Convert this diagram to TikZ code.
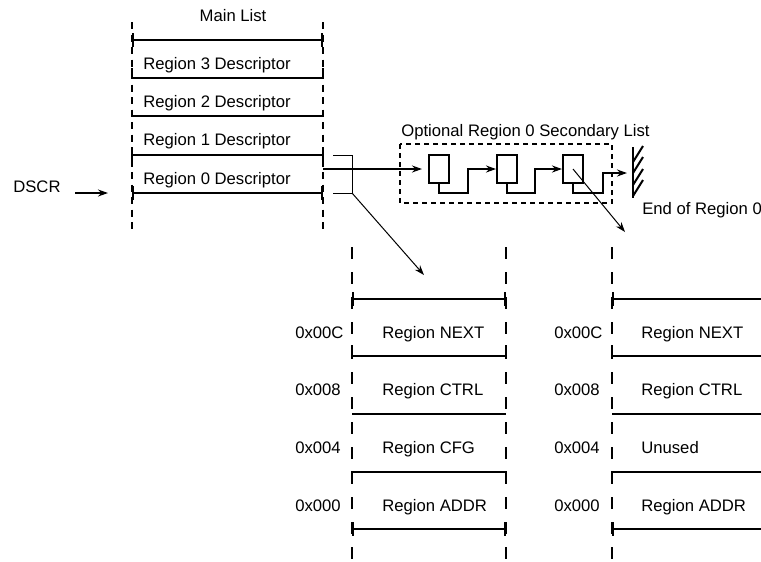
\documentclass[tikz,border=0pt]{standalone}
\usepackage{fontspec}
\setmainfont{Liberation Sans}
\usetikzlibrary{arrows.meta}

\tikzset{
  lane/.style={line width=1.2pt, dash pattern=on 7.2pt off 7.8pt},
  mainlane/.style={line width=1.2pt, dash pattern=on 4.2pt off 3.3pt},
  bar/.style={line width=1.35pt},
  endbar/.style={line width=1.35pt, {Bar[width=8pt]}-{Bar[width=8pt]}},
  cell/.style={anchor=base west, inner sep=0pt},
  link/.style={line width=0.6pt, ->},
  feed/.style={line width=0.9pt, ->},
  chain/.style={line width=1.2pt, ->},
  elem/.style={draw, line width=1.2pt, minimum width=12pt, minimum height=16.8pt, inner sep=0pt},
  secframe/.style={line width=1.2pt, dash pattern=on 3pt off 2.4pt}
}

\begin{document}
\begin{tikzpicture}[x=0.6pt, y=-0.6pt, >={Stealth[length=6pt, width=4.2pt]},
    font=\fontsize{10}{12}\selectfont]
  \clip (0,0) rectangle (761,561);
  % Main list
  \draw[mainlane] (132,22) -- (132,232);
  \draw[mainlane] (323,22) -- (323,232);
  \draw[endbar] (132,40) -- (323,40);
  \draw[bar] (132,68) -- (132,78) -- (323,78) -- (323,68);
  \draw[bar] (132,116) -- (323,116);
  \draw[bar] (132,165) -- (132,155) -- (323,155) -- (323,165);
  \draw[endbar] (132,193) -- (323,193);
  \node[anchor=base] (mainttl) at (233,21) {Main List};
  \node[cell] (main3) at (143,69) {Region 3 Descriptor};
  \node[cell] (main2) at (143,107) {Region 2 Descriptor};
  \node[cell] (main1) at (143,145) {Region 1 Descriptor};
  \node[cell] (main0) at (143,184) {Region 0 Descriptor};
  % DSCR pointer
  \node[cell] (dscr) at (13,192) {DSCR};
  \coordinate (dscrtail) at (75,193);
  \coordinate (dscrtip) at (108,193);
  \draw[feed] (dscrtail) -- (dscrtip);
  % Bracket round region 0
  \coordinate (brtop) at (333,155);
  \coordinate (brbot) at (333,193);
  \coordinate (brjoin) at (352,193);
  \draw[line width=0.6pt] (brtop) -| (brjoin) -- (brbot);
  % Secondary list
  \draw[secframe] (400,144) rectangle (612,203);
  \node[cell] (secttl) at (401,136) {Optional Region 0 Secondary List};
  \node[elem] (elem1) at (439,169) {};
  \node[elem] (elem2) at (507,169) {};
  \node[elem] (elem3) at (573,169) {};
  \coordinate (main0out) at (323,169);
  \coordinate (hop1) at (468,193);
  \coordinate (hop2) at (535,193);
  \coordinate (hop3) at (603,193);
  \coordinate (wallhit) at (627,173);
  \draw[feed, shorten >=3.6pt] (main0out) -- (elem1.west);
  \draw[chain] (elem1.south) |- (hop1) |- (elem2.west);
  \draw[chain] (elem2.south) |- (hop2) |- (elem3.west);
  \draw[chain] (elem3.south) |- (hop3) |- (wallhit);
  % End wall
  \draw[line width=1.5pt] (633,147) -- (633,198);
  \foreach \y in {162,173,185,196}
    \draw[line width=1.2pt] (633,\y) -- ++(10,-16);
  \node[cell] (endttl) at (642,214) {End of Region 0};
  % Pointers to the register layouts
  \coordinate (rowtip) at (424,275);
  \coordinate (nexttip) at (625,232);
  \draw[link] (brjoin) -- (rowtip);
  \draw[link] (elem3.center) -- (nexttip);
  % Register layouts
  \foreach \xl/\xr in {352/506, 612/766} {
    \draw[lane] (\xl,247) -- (\xl,561);
    \draw[lane] (\xr,247) -- (\xr,561);
    \draw[endbar] (\xl,299) -- (\xr,299);
    \draw[bar] (\xl,345) -- (\xl,356) -- (\xr,356) -- (\xr,345);
    \draw[bar] (\xl,414) -- (\xr,414);
    \draw[bar] (\xl,483) -- (\xl,472) -- (\xr,472) -- (\xr,483);
    \draw[endbar] (\xl,529) -- (\xr,529);
  }
  \node[cell] (offC) at (295,338) {0x00C};
  \node[cell] (off8) at (295,395) {0x008};
  \node[cell] (off4) at (295,453) {0x004};
  \node[cell] (off0) at (295,511) {0x000};
  \node[cell] (next) at (382,338) {Region NEXT};
  \node[cell] (ctrl) at (382,395) {Region CTRL};
  \node[cell] (cfg) at (382,453) {Region CFG};
  \node[cell] (addr) at (382,511) {Region ADDR};
  \node[cell] (soffC) at (554,338) {0x00C};
  \node[cell] (soff8) at (554,395) {0x008};
  \node[cell] (soff4) at (554,453) {0x004};
  \node[cell] (soff0) at (554,511) {0x000};
  \node[cell] (snext) at (641,338) {Region NEXT};
  \node[cell] (sctrl) at (641,395) {Region CTRL};
  \node[cell] (sunused) at (641,453) {Unused};
  \node[cell] (saddr) at (641,511) {Region ADDR};
\end{tikzpicture}
\end{document}
